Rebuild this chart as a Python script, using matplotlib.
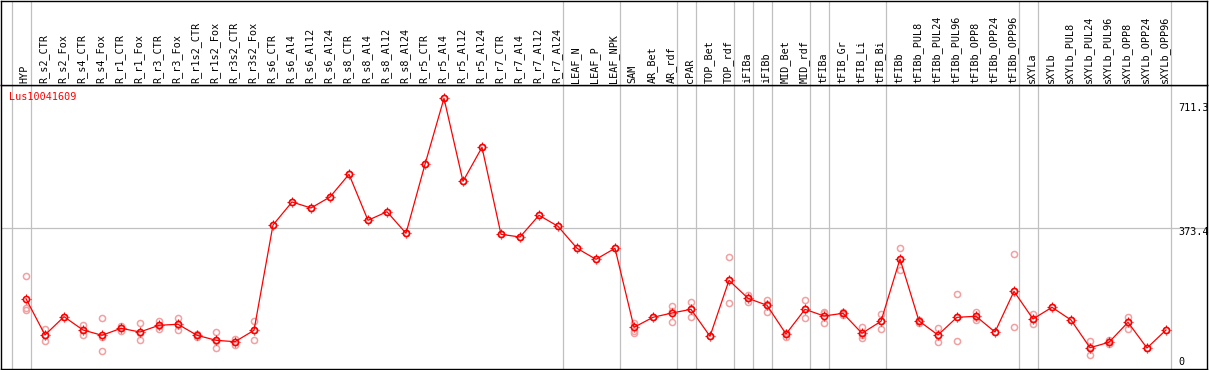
import matplotlib
matplotlib.use("Agg")
import matplotlib.pyplot as plt
from matplotlib.path import Path
import numpy as np

gene_id = "Lus10041609"

samples = ["HYP", "R_s2_CTR", "R_s2_Fox", "R_s4_CTR", "R_s4_Fox", "R_r1_CTR", "R_r1_Fox",
           "R_r3_CTR", "R_r3_Fox", "R_r1s2_CTR", "R_r1s2_Fox", "R_r3s2_CTR", "R_r3s2_Fox",
           "R_s6_CTR", "R_s6_Al4", "R_s6_Al12", "R_s6_Al24", "R_s8_CTR", "R_s8_Al4", "R_s8_Al12",
           "R_s8_Al24", "R_r5_CTR", "R_r5_Al4", "R_r5_Al12", "R_r5_Al24", "R_r7_CTR", "R_r7_Al4",
           "R_r7_Al12", "R_r7_Al24", "LEAF_N", "LEAF_P", "LEAF_NPK", "SAM", "AR_Bet", "AR_rdf",
           "cPAR", "TOP_Bet", "TOP_rdf", "iFIBa", "iFIBb", "MID_Bet", "MID_rdf", "tFIBa",
           "tFIB_Gr", "tFIB_Li", "tFIB_Bi", "tFIBb", "tFIBb_PUL8", "tFIBb_PUL24", "tFIBb_PUL96",
           "tFIBb_OPP8", "tFIBb_OPP24", "tFIBb_OPP96", "sXYLa", "sXYLb", "sXYLb_PUL8",
           "sXYLb_PUL24", "sXYLb_PUL96", "sXYLb_OPP8", "sXYLb_OPP24", "sXYLb_OPP96"]

group_sizes = [1, 28, 3, 3, 1, 2, 1, 1, 2, 1, 3, 7, 1, 7]

means = [189.2, 94.6, 142.3, 107.6, 93.8, 112.0, 102.4, 119.9, 122.5, 93.8, 80.8, 77.1, 106.8,
         381.2, 441.1, 425.5, 454.1, 513.3, 393.4, 415.8, 359.6, 539.3, 711.3, 495.0, 583.6,
         356.9, 349.9, 406.5, 377.8, 320.5, 291.8, 320.5, 114.6, 140.7, 151.9, 161.5, 91.2,
         237.1, 190.2, 172.0, 97.2, 161.5, 144.1, 151.1, 99.0, 130.3, 292.6, 131.1, 94.6,
         140.7, 143.3, 102.4, 208.4, 136.3, 166.8, 133.7, 61.5, 75.6, 127.7, 60.7, 107.6]

replicates = [
    [248.3, 164.1, 159.7], [109.4, 78.2, 94.6], [142.3], [120.6, 94.6, 107.6],
    [138.9, 52.9, 89.4], [118.0, 105.0, 112.8], [125.8, 80.8, 100.8], [130.3, 111.0, 118.0],
    [138.9, 107.6, 120.6], [98.0, 88.6, 94.6], [101.6, 61.5, 78.9], [84.2, 69.3, 77.1],
    [131.1, 82.3, 107.6],
    [381.2], [441.1], [425.5], [454.1], [513.3], [393.4], [415.8], [359.6], [539.3], [711.3],
    [495.0], [583.6], [356.9], [349.9], [406.5], [377.8], [320.5], [291.8], [320.5],
    [125.1, 105.0, 100.6], [140.7], [169.4, 129.2, 157.1], [179.8, 142.3, 161.5], [91.2],
    [297.0, 177.2, 237.1], [198.8, 179.8, 190.2], [185.8, 155.3, 175.3], [90.1, 99.8, 101.0],
    [185.8, 138.1, 161.5], [155.3, 125.1, 151.9], [146.7, 154.5, 152.0], [114.6, 86.8, 95.4],
    [149.3, 109.4, 131.0], [320.5, 263.9, 292.6], [125.8, 133.7, 131.1], [113.6, 75.6, 94.6],
    [201.4, 78.9, 141.5], [155.3, 133.7, 141.5], [102.4], [304.8, 115.4, 208.4],
    [149.3, 123.2, 136.3], [166.8], [133.7], [78.2, 41.7, 63.3], [81.6, 71.1, 75.6],
    [142.3, 111.0, 127.7], [60.7], [107.6],
]

scale_labels = ["711.3", "373.4", "0"]
mid_value = 373.4
max_value = 711.3

# ---- pixel layout ----
W, H = 1209, 370
left_px, right_px = 1, 1207
top_px, sep_px, bottom_px = 0.5, 85, 369
x0_px, step_px = 26, 19
y_zero_px, y_max_px = 371.3, 98.3

fig = plt.figure(figsize=(W / 100, H / 100), dpi=100)
fig.patch.set_facecolor("white")

ax = fig.add_axes([left_px / W, 1 - bottom_px / H, (right_px - left_px) / W, (bottom_px - sep_px) / H])
axl = fig.add_axes([left_px / W, 1 - sep_px / H, (right_px - left_px) / W, (sep_px - top_px) / H])

xlim = ((left_px - x0_px) / step_px, (right_px - x0_px) / step_px)
k = (y_zero_px - y_max_px) / max_value
ylim = ((y_zero_px - bottom_px) / k, (y_zero_px - sep_px) / k)

for a in (ax, axl):
    a.set_xlim(*xlim)
    a.set_xticks([])
    a.set_yticks([])
    for s in a.spines.values():
        s.set_color("black")
        s.set_linewidth(1.0)
        s.set_zorder(10)
ax.set_ylim(*ylim)
axl.set_ylim(0, 1)

# group separators
ends = np.concatenate([[0], np.cumsum(group_sizes)])
for e in ends:
    xs = e - 1 + 4.5 / step_px
    ax.axvline(xs, color="#c0c0c0", lw=0.9, zorder=1)
    axl.axvline(xs, color="#c0c0c0", lw=0.9, zorder=1)

ax.axhline(mid_value, color="#c0c0c0", lw=0.9, zorder=1)

mono = "DejaVu Sans Mono"
fs = 7.3

# sample labels
for i, s in enumerate(samples):
    axl.text(i - 0.06, 0.02, s, rotation=90, ha="center", va="bottom",
             fontsize=fs, family=mono, color="black")

x = np.arange(len(samples))

# replicates
for i, reps in enumerate(replicates):
    ax.plot([i] * len(reps), reps, "o", ms=4.4, mfc="none", mec="#f2a0a0", mew=1.1, zorder=2)

ax.plot(x, means, "-", color="#ff0000", lw=0.9, zorder=3)
ax.plot(x, means, "o", ms=4.4, mfc="none", mec="#ff0000", mew=1.2, zorder=4)

r0, r1 = 0.7, 1.0
tick_path = Path([(0, r0), (0, r1), (0, -r0), (0, -r1), (r0, 0), (r1, 0), (-r0, 0), (-r1, 0)],
                 [Path.MOVETO, Path.LINETO] * 4)
ax.plot(x, means, ls="none", marker=tick_path, ms=7.2, mec="#ff0000", mew=0.8, zorder=4)

# gene id
ax.text(0.0069, 0.957, gene_id, transform=ax.transAxes, ha="left", va="center",
        fontsize=fs, family=mono, color="#ff0000")

# scale labels on right
for lab, yf in zip(scale_labels, [0.920, 0.482, 0.0246]):
    ax.text(0.9765, yf, lab, transform=ax.transAxes, ha="left", va="center",
            fontsize=fs, family=mono, color="black", clip_on=False)

fig.savefig("out.png", dpi=100, facecolor="white")
